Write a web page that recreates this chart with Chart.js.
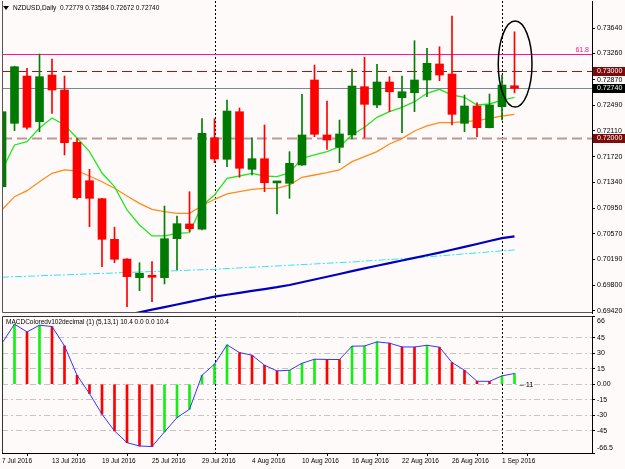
<!DOCTYPE html>
<html>
<head>
<meta charset="utf-8">
<title>NZDUSD Daily</title>
<script src="https://cdn.jsdelivr.net/npm/chart.js@4.4.1/dist/chart.umd.min.js"></script>
<style>
  html, body { margin: 0; padding: 0; background: #fffafa; }
  #wrap { position: relative; width: 625px; height: 469px; overflow: hidden; }
  #priceChart { position: absolute; left: 0; top: 0; }
  #macdChart { position: absolute; left: 0; top: 313px; }
</style>
</head>
<body>
<div id="wrap">
  <canvas id="priceChart" width="625" height="314"></canvas>
  <canvas id="macdChart" width="625" height="156"></canvas>
</div>
<script>
// daily bars 7 Jul 2016 .. 2 Sep 2016 (index 0..41)
const dateTicks = [0, 4, 8, 12, 16, 20, 24, 28, 32, 36, 40];
const dateLabels = ['7 Jul 2016', '13 Jul 2016', '19 Jul 2016', '25 Jul 2016', '29 Jul 2016', '4 Aug 2016',
    '10 Aug 2016', '16 Aug 2016', '22 Aug 2016', '26 Aug 2016', '1 Sep 2016'];
const separatorIdx = [17, 40];

const openPrices = [0.71273, 0.72219, 0.72924, 0.72243, 0.72939, 0.72716, 0.71936, 0.71363, 0.71095, 0.70489,
    0.70195, 0.69917, 0.69953, 0.69917, 0.70498, 0.70718, 0.70639, 0.72004, 0.71682, 0.72392,
    0.71533, 0.71691, 0.71330, 0.71324, 0.71597, 0.72865, 0.72045, 0.71861, 0.72045, 0.72765,
    0.72492, 0.72835, 0.72601, 0.72675, 0.72865, 0.73104, 0.72954, 0.72219, 0.72477, 0.72154,
    0.72467, 0.72779];
const highPrices = [0.72410, 0.73070, 0.73039, 0.73252, 0.73178, 0.72924, 0.71996, 0.71533, 0.71100, 0.70668,
    0.70200, 0.70140, 0.70155, 0.70986, 0.70837, 0.71199, 0.72288, 0.72288, 0.72566, 0.72447,
    0.72004, 0.72194, 0.71345, 0.71796, 0.72651, 0.73088, 0.72552, 0.72268, 0.73029, 0.73203,
    0.73099, 0.72914, 0.72924, 0.73451, 0.73337, 0.73361, 0.73819, 0.72641, 0.72526, 0.72656,
    0.72939, 0.73584];
const lowPrices = [0.71150, 0.72109, 0.72130, 0.72094, 0.72368, 0.71747, 0.71086, 0.70677, 0.70081, 0.70140,
    0.69485, 0.69723, 0.69559, 0.69823, 0.70031, 0.70603, 0.70630, 0.71632, 0.71572, 0.71414,
    0.71448, 0.71199, 0.70867, 0.71100, 0.71590, 0.72020, 0.71831, 0.71632, 0.71985, 0.72004,
    0.72452, 0.72392, 0.72079, 0.72392, 0.72616, 0.72854, 0.72194, 0.72094, 0.72020, 0.72150,
    0.72268, 0.72672];
const closePrices = [0.72392, 0.73063, 0.72159, 0.72914, 0.72716, 0.71930, 0.71110, 0.71100, 0.70489, 0.70191,
    0.69932, 0.69983, 0.69923, 0.70498, 0.70722, 0.70648, 0.72070, 0.71687, 0.72402, 0.71548,
    0.71691, 0.71333, 0.71340, 0.71622, 0.72045, 0.72055, 0.71970, 0.72060, 0.72775, 0.72502,
    0.72835, 0.72690, 0.72690, 0.72865, 0.73114, 0.72939, 0.72353, 0.72477, 0.72154, 0.72492,
    0.72790, 0.72740];

const fastMA = [0.71520, 0.71896, 0.71945, 0.72149, 0.72298, 0.72194, 0.72000, 0.71796, 0.71478, 0.71274,
    0.70926, 0.70703, 0.70539, 0.70539, 0.70579, 0.70588, 0.70990, 0.71150, 0.71399, 0.71433,
    0.71473, 0.71433, 0.71423, 0.71482, 0.71697, 0.71747, 0.71796, 0.71870, 0.72045, 0.72159,
    0.72308, 0.72392, 0.72457, 0.72541, 0.72666, 0.72726, 0.72641, 0.72607, 0.72492, 0.72507,
    0.72566, 0.72607];
const midMA = [0.70930, 0.71125, 0.71214, 0.71348, 0.71473, 0.71523, 0.71508, 0.71433, 0.71348, 0.71250,
    0.71135, 0.71026, 0.70937, 0.70901, 0.70877, 0.70877, 0.70990, 0.71086, 0.71165, 0.71199,
    0.71235, 0.71250, 0.71250, 0.71299, 0.71414, 0.71448, 0.71482, 0.71523, 0.71647, 0.71722,
    0.71796, 0.71910, 0.71990, 0.72104, 0.72179, 0.72228, 0.72228, 0.72243, 0.72258, 0.72293,
    0.72328, 0.72353];
const slowMA = [null, null, null, null, null, null, null, null, null, null,
    0.69360, 0.69400, 0.69440, 0.69478, 0.69517, 0.69555, 0.69595, 0.69634, 0.69662, 0.69690,
    0.69719, 0.69747, 0.69775, 0.69808, 0.69848, 0.69890, 0.69930, 0.69972, 0.70014, 0.70056,
    0.70094, 0.70133, 0.70173, 0.70212, 0.70251, 0.70291, 0.70333, 0.70376, 0.70419, 0.70463,
    0.70506, 0.70534];
const longMA = [0.69924, 0.69932, 0.69938, 0.69945, 0.69953, 0.69959, 0.69966, 0.69974, 0.69980, 0.69987,
    0.69995, 0.70001, 0.70008, 0.70015, 0.70021, 0.70029, 0.70035, 0.70042, 0.70053, 0.70062,
    0.70072, 0.70082, 0.70091, 0.70102, 0.70112, 0.70121, 0.70132, 0.70142, 0.70151, 0.70164,
    0.70176, 0.70188, 0.70199, 0.70212, 0.70227, 0.70242, 0.70257, 0.70272, 0.70287, 0.70302,
    0.70317, 0.70330];

const priceTicks = [0.73640, 0.73260, 0.72870, 0.72490, 0.72110, 0.71720, 0.71340, 0.70950, 0.70570, 0.70190, 0.69800, 0.69420];
const fiboLevel = 0.73260;
const resistanceLevel = 0.73000;
const bidPrice = 0.72740;
const supportLevel = 0.72000;
const markIdx = [39.7, 42.4];
const markPrice = [0.72462, 0.73744];

const macdValues = [39.7, 58.1, 50.6, 57.1, 55.8, 37.1, 8.7, -9.0, -29.0, -45.2,
    -56.5, -59.7, -60.3, -46.1, -32.3, -24.2, 8.7, 19.4, 38.1, 30.6,
    28.1, 18.4, 12.9, 13.5, 20.3, 24.2, 24.0, 23.9, 36.8, 37.0,
    41.0, 39.7, 36.1, 36.0, 37.7, 35.8, 21.0, 13.5, 2.9, 2.8,
    8.1, 10.4];
const macdTicks = [66, 45, 30, 15, 0, -15, -30, -45, -66.5];
const macdTickLabels = ['66', '45', '30', '15', '0.00', '-15', '-30', '-45', '-66.5'];

const titleText = 'NZDUSD,Daily  0.72779 0.73584 0.72672 0.72740';
const macdTitle = 'MACDColoredv102decimal (1) (5,13,1) 10.4 0.0 0.0 10.4';

const FONT = '"Liberation Sans", Arial, sans-serif';
const barIndex = openPrices.map((_, i) => i);
const upBar = barIndex.map(i => closePrices[i] >= openPrices[i]);

function fixAxisWidth(scale) {
    scale.width = 33;
    scale.paddingTop = 0;
    scale.paddingBottom = 0;
}

function lineSet(values, color, width, order, dash) {
    return {
        type: 'line',
        data: barIndex.map(i => ({ x: i, y: values[i] })),
        borderColor: color,
        borderWidth: width,
        borderDash: dash || [],
        pointRadius: 0,
        tension: 0,
        order: order
    };
}

function drawSeparators(chart) {
    const { ctx, chartArea: a, scales: { x } } = chart;
    ctx.save();
    ctx.strokeStyle = '#000';
    ctx.lineWidth = 1;
    ctx.setLineDash([2, 2]);
    separatorIdx.forEach(i => {
        const px = Math.round(x.getPixelForValue(i)) + 0.5;
        ctx.beginPath();
        ctx.moveTo(px, a.top);
        ctx.lineTo(px, a.bottom);
        ctx.stroke();
    });
    ctx.restore();
}

function hLine(chart, value, color, width, dash) {
    const { ctx, chartArea: a, scales: { y } } = chart;
    const py = Math.round(y.getPixelForValue(value)) + 0.5;
    ctx.save();
    ctx.strokeStyle = color;
    ctx.lineWidth = width;
    ctx.setLineDash(dash);
    ctx.beginPath();
    ctx.moveTo(a.left, py);
    ctx.lineTo(a.right, py);
    ctx.stroke();
    ctx.restore();
    return py;
}

function axisBox(chart, value, bg) {
    const { ctx, chartArea: a, scales: { y } } = chart;
    const py = Math.round(y.getPixelForValue(value));
    ctx.save();
    ctx.fillStyle = bg;
    ctx.fillRect(a.right + 1, py - 4, 33, 9);
    ctx.fillStyle = '#fff';
    ctx.font = '7px ' + FONT;
    ctx.textBaseline = 'middle';
    ctx.fillText(value.toFixed(5), a.right + 5, py + 0.5);
    ctx.restore();
}

const priceOverlay = {
    id: 'priceOverlay',
    beforeDatasetsDraw(chart) {
        drawSeparators(chart);
        const { ctx, chartArea: a } = chart;
        const fy = hLine(chart, fiboLevel, '#ff1493', 1, []);
        hLine(chart, resistanceLevel, '#a31515', 1.2, [10, 5]);
        hLine(chart, bidPrice, '#778899', 1, []);
        hLine(chart, supportLevel, '#c39595', 2, [10, 5]);
        ctx.save();
        ctx.fillStyle = '#ff1493';
        ctx.font = '7px ' + FONT;
        ctx.textAlign = 'right';
        ctx.textBaseline = 'bottom';
        ctx.fillText('61.8', a.right - 3, fy - 1);
        ctx.restore();
    },
    afterDatasetsDraw(chart) {
        const { ctx, scales: { x, y } } = chart;
        const x0 = x.getPixelForValue(markIdx[0]), x1 = x.getPixelForValue(markIdx[1]);
        const y0 = y.getPixelForValue(markPrice[1]), y1 = y.getPixelForValue(markPrice[0]);
        ctx.save();
        ctx.strokeStyle = '#000';
        ctx.lineWidth = 1.5;
        ctx.beginPath();
        ctx.ellipse((x0 + x1) / 2, (y0 + y1) / 2, (x1 - x0) / 2, (y1 - y0) / 2, 0, 0, Math.PI * 2);
        ctx.stroke();
        ctx.restore();
    },
    afterDraw(chart) {
        const { ctx, chartArea: a } = chart;
        ctx.save();
        ctx.strokeStyle = '#555';
        ctx.lineWidth = 1;
        ctx.beginPath();
        ctx.moveTo(a.left + 0.5, a.top);
        ctx.lineTo(a.left + 0.5, a.bottom - 0.5);
        ctx.lineTo(a.right, a.bottom - 0.5);
        ctx.stroke();
        // title
        ctx.fillStyle = '#000';
        ctx.beginPath();
        ctx.moveTo(3, 6);
        ctx.lineTo(9, 6);
        ctx.lineTo(6, 10);
        ctx.closePath();
        ctx.fill();
        ctx.font = '6.5px ' + FONT;
        ctx.textBaseline = 'middle';
        ctx.fillText(titleText, 13, 8.5);
        ctx.restore();
        axisBox(chart, resistanceLevel, '#7d0b0b');
        axisBox(chart, bidPrice, '#000');
        axisBox(chart, supportLevel, '#7d0b0b');
    }
};

const macdOverlay = {
    id: 'macdOverlay',
    beforeDatasetsDraw(chart) {
        drawSeparators(chart);
    },
    afterDraw(chart) {
        const { ctx, chartArea: a, scales: { x, y } } = chart;
        ctx.save();
        ctx.strokeStyle = '#333';
        ctx.lineWidth = 1;
        ctx.beginPath();
        ctx.moveTo(a.right, a.top + 0.5);
        ctx.lineTo(a.left + 0.5, a.top + 0.5);
        ctx.lineTo(a.left + 0.5, a.bottom);
        ctx.stroke();
        ctx.fillStyle = '#000';
        ctx.font = '6.5px ' + FONT;
        ctx.textBaseline = 'middle';
        ctx.fillText(macdTitle, 6, a.top + 6.5);
        const last = barIndex.length - 1;
        ctx.font = '7.5px ' + FONT;
        ctx.fillText('\u2013 11', x.getPixelForValue(last) + 5, y.getPixelForValue(0) + 1);
        // top / bottom range labels sit just inside the pane edges
        ctx.font = '7px ' + FONT;
        ctx.fillText(macdTickLabels[0], a.right + 5, y.getPixelForValue(macdTicks[0]) + 5);
        const n = macdTicks.length - 1;
        ctx.fillText(macdTickLabels[n], a.right + 5, y.getPixelForValue(macdTicks[n]) - 5);
        ctx.restore();
    }
};

const candleBodies = {
    type: 'bar',
    data: barIndex.map(i => ({ x: i, y: [openPrices[i], closePrices[i]] })),
    backgroundColor: barIndex.map(i => upBar[i] ? '#007a00' : '#ff0000'),
    borderWidth: 0,
    barThickness: 8,
    minBarLength: 2,
    grouped: false,
    order: 0
};
const candleWicks = {
    type: 'bar',
    data: barIndex.map(i => ({ x: i, y: [lowPrices[i], highPrices[i]] })),
    backgroundColor: barIndex.map(i => upBar[i] ? '#008000' : '#ff0000'),
    borderWidth: 0,
    barThickness: 1,
    grouped: false,
    order: 1
};

new Chart(document.getElementById('priceChart'), {
    type: 'bar',
    data: {
        datasets: [
            candleBodies,
            candleWicks,
            lineSet(fastMA, '#22e622', 1.3, 2),
            lineSet(midMA, '#ff8c1a', 1.3, 3),
            lineSet(slowMA, '#0000c0', 2.2, 4),
            lineSet(longMA, '#2ee6f0', 1, 5, [7, 2, 2, 2])
        ]
    },
    options: {
        responsive: false,
        animation: false,
        events: [],
        layout: { padding: { left: 2, top: 1, right: 0, bottom: 1 } },
        plugins: { legend: { display: false }, tooltip: { enabled: false } },
        scales: {
            x: { type: 'linear', min: 0, max: 47.2, offset: false, display: false },
            y: {
                position: 'right',
                min: 0.69390,
                max: 0.74043,
                afterBuildTicks: s => { s.ticks = priceTicks.map(v => ({ value: v })); },
                afterFit: fixAxisWidth,
                ticks: {
                    color: '#000',
                    font: { size: 7, family: FONT },
                    padding: 2,
                    callback: v => v.toFixed(5)
                },
                grid: { drawOnChartArea: false, tickLength: 3, color: '#000' },
                border: { display: true, color: '#000' }
            }
        }
    },
    plugins: [priceOverlay]
});

new Chart(document.getElementById('macdChart'), {
    type: 'bar',
    data: {
        datasets: [
            {
                type: 'line',
                data: barIndex.map(i => ({ x: i, y: macdValues[i] })),
                borderColor: '#3535ff',
                borderWidth: 1,
                pointRadius: 0,
                tension: 0,
                order: 0
            },
            {
                type: 'bar',
                data: barIndex.map(i => ({ x: i, y: macdValues[i] })),
                backgroundColor: barIndex.map(i => (i === 0 || macdValues[i] >= macdValues[i - 1]) ? '#14ee14' : '#ff0000'),
                barThickness: 2,
                borderWidth: 0,
                grouped: false,
                order: 1
            }
        ]
    },
    options: {
        responsive: false,
        animation: false,
        events: [],
        layout: { padding: { left: 2, top: 3, right: 0, bottom: 0 } },
        plugins: { legend: { display: false }, tooltip: { enabled: false } },
        scales: {
            x: {
                type: 'linear',
                min: 0,
                max: 47.2,
                offset: false,
                position: 'bottom',
                afterBuildTicks: s => { s.ticks = dateTicks.map(v => ({ value: v })); },
                afterFit: s => { s.height = 16; s.paddingLeft = 0; s.paddingRight = 0; },
                ticks: {
                    color: '#000',
                    font: { size: 6.5, family: FONT },
                    align: 'start',
                    autoSkip: false,
                    maxRotation: 0,
                    padding: 1,
                    callback: v => dateLabels[dateTicks.indexOf(v)]
                },
                grid: { drawOnChartArea: false, tickLength: 3, color: '#000' },
                border: { display: true, color: '#000' }
            },
            y: {
                position: 'right',
                min: -66.5,
                max: 66,
                afterBuildTicks: s => { s.ticks = macdTicks.map(v => ({ value: v })); },
                afterFit: fixAxisWidth,
                ticks: {
                    color: '#000',
                    font: { size: 7, family: FONT },
                    padding: 2,
                    callback: v => (Math.abs(v) > 60 ? '' : macdTickLabels[macdTicks.indexOf(v)])
                },
                grid: {
                    tickLength: 3,
                    tickColor: '#000',
                    color: c => (c.tick && Math.abs(c.tick.value) > 60) ? 'rgba(0,0,0,0)' : '#c4c4c4'
                },
                border: { display: true, color: '#000', dash: [6, 3, 2, 3] }
            }
        }
    },
    plugins: [macdOverlay]
});
</script>
</body>
</html>
